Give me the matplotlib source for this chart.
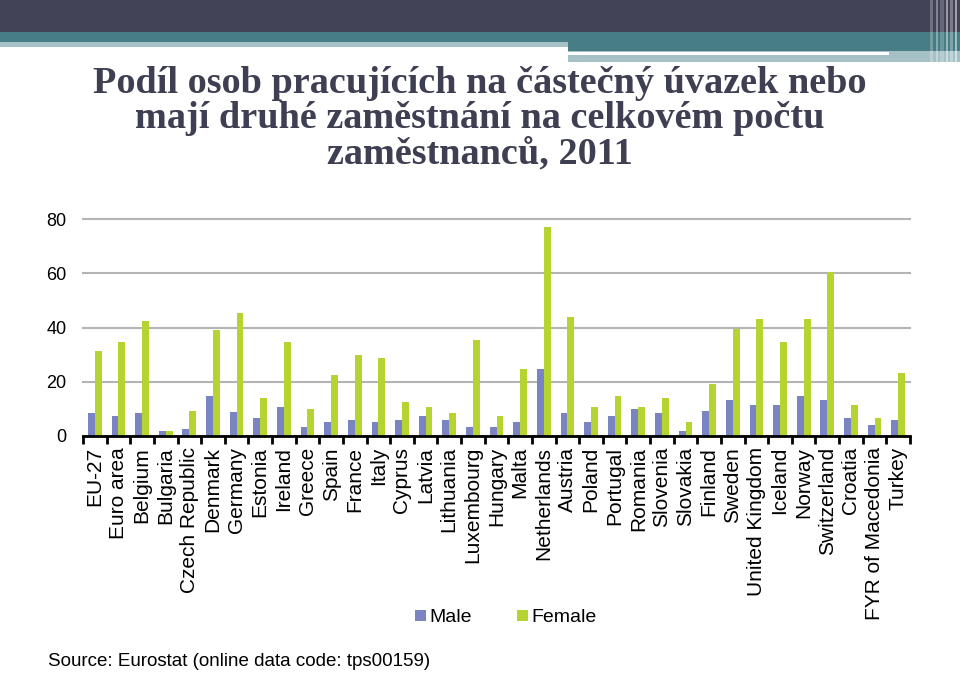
import matplotlib.pyplot as plt
import numpy as np
from matplotlib.patches import Rectangle

# data
countries = ["EU-27", "Euro area", "Belgium", "Bulgaria", "Czech Republic", "Denmark",
             "Germany", "Estonia", "Ireland", "Greece", "Spain", "France", "Italy",
             "Cyprus", "Latvia", "Lithuania", "Luxembourg", "Hungary", "Malta",
             "Netherlands", "Austria", "Poland", "Portugal", "Romania", "Slovenia",
             "Slovakia", "Finland", "Sweden", "United Kingdom", "Iceland", "Norway",
             "Switzerland", "Croatia", "FYR of Macedonia", "Turkey"]
male = [8.4, 7.4, 8.4, 1.7, 2.5, 14.8, 9.0, 6.7, 10.8, 3.3, 5.1, 5.8, 5.1,
        5.8, 7.4, 5.8, 3.3, 3.3, 5.1, 24.8, 8.4, 5.1, 7.4, 9.9, 8.4,
        1.7, 9.1, 13.2, 11.6, 11.6, 14.8, 13.2, 6.7, 4.2, 5.8]
female = [31.5, 34.7, 42.3, 1.7, 9.1, 39.1, 45.5, 14.0, 34.7, 9.9, 22.4, 29.8, 28.9,
          12.4, 10.8, 8.4, 35.5, 7.4, 24.8, 76.9, 43.9, 10.8, 14.8, 10.8, 14.1,
          5.1, 19.0, 39.6, 43.0, 34.7, 43.0, 60.4, 11.6, 6.7, 23.2]
yticks = [0, 20, 40, 60, 80]

title = "Podíl osob pracujících na částečný úvazek nebo\nmají druhé zaměstnání na celkovém počtu\nzaměstnanců, 2011"
source = "Source: Eurostat (online data code: tps00159)"

male_color = "#7b84c2"
female_color = "#b6d431"
sans = ["Liberation Sans", "DejaVu Sans"]

fig = plt.figure(figsize=(9.6, 6.76), dpi=100)

def band(x0, y0, x1, y1, color, z=0, alpha=1.0):
    # header stripes, given in pixels from top-left
    fig.patches.append(Rectangle((x0/960, 1 - y1/676), (x1-x0)/960, (y1-y0)/676,
                                 transform=fig.transFigure, color=color, zorder=z,
                                 alpha=alpha, linewidth=0))

band(0, 0, 960, 32, "#424357")
band(0, 32, 960, 42, "#477d85")
band(0, 42, 568, 47, "#a6c1c5")
band(568, 42, 960, 51, "#477d85")
band(568, 51, 960, 62, "#a6c1c5")
band(568, 52, 889, 55, "white", 1)
# faint vertical stripes at the right edge
for xs, ww, a in [(930, 3, 0.25), (936, 2, 0.35), (940, 4, 0.2), (946, 2, 0.45),
                  (950, 3, 0.3), (955, 2, 0.5)]:
    band(xs, 0, xs + ww, 64, "white", 2, a)

fig.text(0.5, 1 - 66/676, title, ha="center", va="top", fontsize=27.5, fontweight="bold",
         family="Liberation Serif", color="#3e3f52", linespacing=1.0)

ax = fig.add_axes([83/960, (676-436)/676, (910-83)/960, (436-219)/676])
x = np.arange(len(countries))
w = 0.29
ax.bar(x - w/2, male, w, color=male_color, label="Male", zorder=3)
ax.bar(x + w/2, female, w, color=female_color, label="Female", zorder=3)

ax.set_xlim(-0.5, len(countries) - 0.5)
ax.set_ylim(0, 80)
ax.set_yticks(yticks)
ax.set_yticklabels([str(t) for t in yticks], family=sans, fontsize=13)
for t in yticks:
    ax.axhline(t, color="#b4b4b4", linewidth=1.5, zorder=0, clip_on=False)
ax.tick_params(axis="y", length=0, pad=12)

ax.set_xticks(x)
ax.set_xticklabels(countries, rotation=90, family=sans, fontsize=15, va="top", ha="center")
ax.set_xticks(np.arange(len(countries) + 1) - 0.5, minor=True)
ax.tick_params(axis="x", which="major", length=0, pad=8)
ax.tick_params(axis="x", which="minor", length=6, width=2, direction="out", color="black")

for s in ["top", "right", "left"]:
    ax.spines[s].set_visible(False)
ax.spines["bottom"].set_linewidth(2)
ax.spines["bottom"].set_zorder(4)

fig.legend(loc="center", bbox_to_anchor=(0.527, 1 - 618/676), ncol=2, frameon=False,
           prop={"family": sans, "size": 14}, handlelength=0.55, handleheight=0.55,
           handletextpad=0.2, columnspacing=2.3)

fig.text(48/960, 1 - 662/676, source, ha="left", va="center", family=sans, fontsize=13.5)

fig.savefig("out.png", dpi=100)
